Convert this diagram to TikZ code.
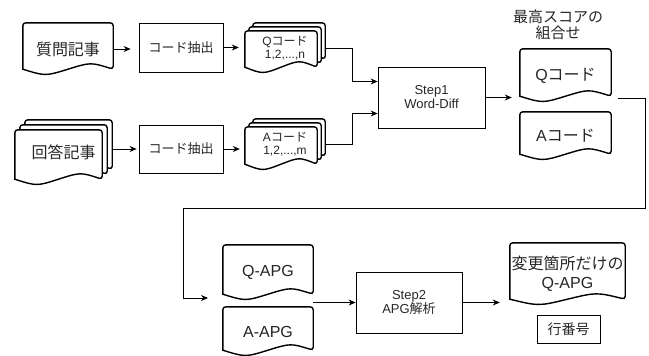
\documentclass[tikz,border=0pt]{standalone}
\usepackage{fontspec}
\setmainfont{Liberation Sans}
\newfontfamily\jp{Noto Sans CJK JP}
\usetikzlibrary{arrows.meta,calc,backgrounds}

\tikzset{
  docbox/.style={inner sep=0pt, align=center, text=black!85, font=\fontsize{16}{19}\selectfont},
  stackbox/.style={inner sep=0pt, align=center, text=black!85, font=\fontsize{12}{13}\selectfont},
  procbox/.style={draw=black, line width=0.8pt, inner sep=0pt, align=center, text=black!85, font=\fontsize{13}{14}\selectfont},
  docline/.style={draw=black, line width=1.4pt, fill=white},
  link/.style={draw=black, line width=0.8pt, -{Stealth[length=7pt,width=6pt]}}
}

% outline of a document sheet inside node #1, trimmed by #2 at the lower left and #3 at the upper right
\newcommand\docpath[3]{%
  let \p1 = ($(#1.south west)+(#2,#2)$), \p2 = ($(#1.north east)-(#3,#3)$) in
  (\x1,\y1+6pt) [rounded corners=3pt] -- (\x1,\y2) -- (\x2,\y2) -- (\x2,\y1+6pt) [sharp corners]
  .. controls ({0.25*\x1+0.75*\x2},\y1+13pt) .. ({0.5*\x1+0.5*\x2},\y1+6pt)
  .. controls ({0.75*\x1+0.25*\x2},\y1-1pt) .. (\x1,\y1+6pt) -- cycle}

\begin{document}
\begin{tikzpicture}[x=1pt,y=-1pt]
    \useasboundingbox (0,0) rectangle (649,356);

    \node[docbox, minimum width=90, minimum height=52] (qpost) at (68,49) {{\jp 質問記事}};
    \node[procbox, minimum width=84, minimum height=49] (qcut) at (181,47.5) {{\jp コード抽出}};
    \node[stackbox, minimum width=80, minimum height=50] (qcodes) at (285,48) {Q{\jp コード}\\1,2,...,n};

    \node[docbox, minimum width=97, minimum height=65] (apost) at (63.5,152.5) {{\jp 回答記事}};
    \node[procbox, minimum width=84, minimum height=48] (acut) at (181,149) {{\jp コード抽出}};
    \node[stackbox, minimum width=80, minimum height=51] (acodes) at (285,144.5) {A{\jp コード}\\1,2,...,m};

    \node[procbox, minimum width=107, minimum height=61] (step1) at (431.5,97.5) {Step1\\Word-Diff};

    \node[align=center, inner sep=0pt, text=black!85, font=\fontsize{15}{16}\selectfont] (best) at (558,25) {{\jp 最高スコアの}\\{\jp 組合せ}};
    \node[docbox, minimum width=91, minimum height=53] (qbest) at (565.5,75.5) {Q{\jp コード}};
    \node[docbox, minimum width=91, minimum height=48] (abest) at (565.5,136) {A{\jp コード}};

    \node[docbox, minimum width=90, minimum height=55] (qapg) at (268,272.5) {Q-APG};
    \node[docbox, minimum width=90, minimum height=49] (aapg) at (268,331.5) {A-APG};

    \node[procbox, minimum width=106, minimum height=61] (step2) at (409,302.5) {Step2\\APG{\jp 解析}};

    \node[docbox, minimum width=115, minimum height=62] (result) at (567.5,274) {{\jp 変更箇所だけの}\\Q-APG};
    \node[procbox, minimum width=63, minimum height=28, font=\fontsize{14}{16}\selectfont] (lineno) at (568.5,329) {{\jp 行番号}};

    \coordinate (wrap) at (183,208);
    \coordinate (apgin) at (208,298);

    \begin{scope}[on background layer]
        \foreach \docname in {qpost,qbest,abest,qapg,aapg,result}
            \draw[docline] \docpath{\docname}{0pt}{0pt};
        \foreach \docname/\off in {apost/5pt,qcodes/4pt,acodes/4pt} {
            \draw[docline] \docpath{\docname}{2*\off}{0pt};
            \draw[docline] \docpath{\docname}{\off}{\off};
            \draw[docline] \docpath{\docname}{0pt}{2*\off};
        }
    \end{scope}

    \draw[link, shorten >=8pt] (qpost.east) -- (qpost.east -| qcut.west);
    \draw[link, shorten >=6pt] (qcut.east) -- (qcut.east -| qcodes.west);
    \draw[link] (qcodes.east) -- ++(27,0) |- ([yshift=16pt]step1.west);
    \draw[link, shorten >=2pt] (apost.east |- acut.west) -- (acut.west);
    \draw[link, shorten >=5pt] (acut.east) -- (acut.east -| acodes.west);
    \draw[link] (acodes.east) -- ++(27,0) |- ([yshift=-16pt]step1.west);
    \draw[link, shorten >=8pt] (step1.east) -- (step1.east -| qbest.west);
    \draw[link] ([shift={(7pt,4pt)}]qbest.south east) -- ++(27,0) |- (wrap) |- (apgin);
    \draw[link] (step2.west -| qapg.east) -- (step2.west);
    \draw[link, shorten >=10pt] (step2.east) -- (step2.east -| result.west);
\end{tikzpicture}
\end{document}
